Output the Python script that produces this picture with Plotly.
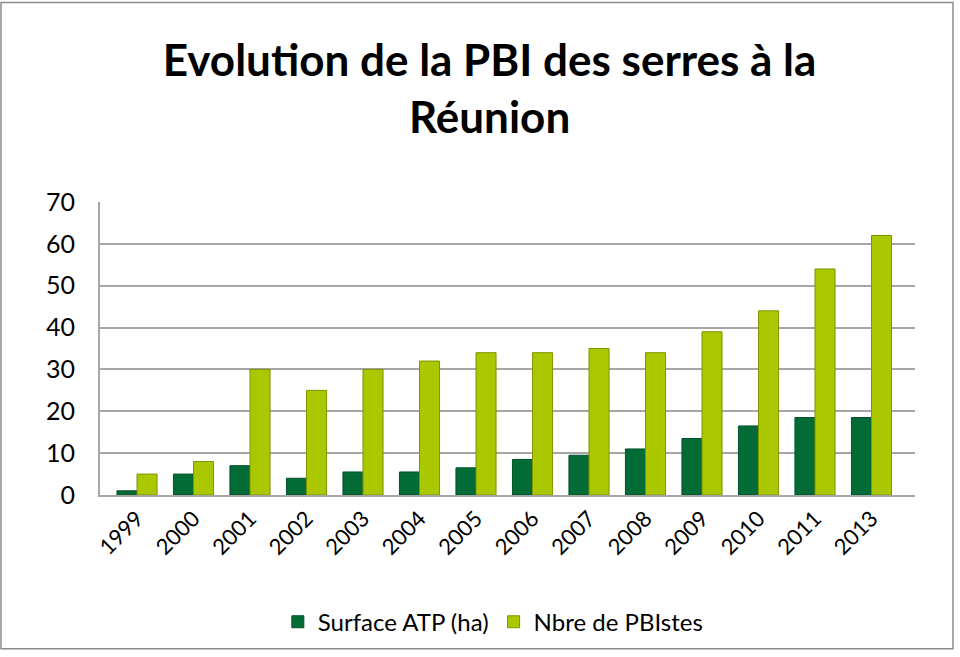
import plotly.graph_objects as go

years = ["1999", "2000", "2001", "2002", "2003", "2004", "2005", "2006",
         "2007", "2008", "2009", "2010", "2011", "2013"]
surface_atp = [1, 5, 7, 4, 5.5, 5.5, 6.5, 8.5, 9.5, 11, 13.5, 16.5, 18.5, 18.5]
nbre_pbistes = [5, 8, 30, 25, 30, 32, 34, 34, 35, 34, 39, 44, 54, 62]
y_ticks = [0, 10, 20, 30, 40, 50, 60, 70]

FONT = "Lato"

fig = go.Figure()
fig.add_trace(go.Bar(x=years, y=surface_atp, name="Surface ATP (ha)",
                     marker=dict(color="#036B35", line=dict(color="#02502A", width=1))))
fig.add_trace(go.Bar(x=years, y=nbre_pbistes, name="Nbre de PBIstes",
                     marker=dict(color="#ABC700", line=dict(color="#7E9400", width=1))))

fig.update_layout(
    width=960, height=657,
    paper_bgcolor="white", plot_bgcolor="white",
    margin=dict(l=100, r=45, t=202, b=160),
    barmode="group", bargap=0.29, bargroupgap=0.0,
    font=dict(family=FONT, color="#000000"),
    title=dict(text="<b>Evolution de la PBI des serres à la<br>Réunion</b>",
               x=0.51, xanchor="center", y=0.884, yanchor="middle",
               font=dict(size=44, family=FONT, color="#000000")),
    legend=dict(orientation="h", x=0.482, xanchor="center", y=-0.434, yanchor="middle",
                font=dict(size=24, family=FONT), itemwidth=30, traceorder="normal"),
    xaxis=dict(tickangle=-45, tickfont=dict(size=22, family=FONT),
               range=[-0.655, 13.77],
               showline=True, linecolor="#A6A6A6", linewidth=2,
               showgrid=False, ticks=""),
    yaxis=dict(range=[0, 70], tickvals=y_ticks, tickfont=dict(size=25, family=FONT),
               showgrid=True, gridcolor="#A6A6A6", gridwidth=2,
               showline=True, linecolor="#A6A6A6", linewidth=2,
               zeroline=False, ticks="", ticklabelstandoff=18),
    shapes=[dict(type="rect", xref="paper", yref="paper",
                 x0=-0.1215, x1=1.0466, y0=-0.525, y1=1.681,
                 line=dict(color="#8C8C8C", width=1.5), fillcolor="rgba(0,0,0,0)",
                 layer="below")],
)

fig.write_html("out.html", config={"displayModeBar": False},
               post_script="document.body.style.margin='0px';")
